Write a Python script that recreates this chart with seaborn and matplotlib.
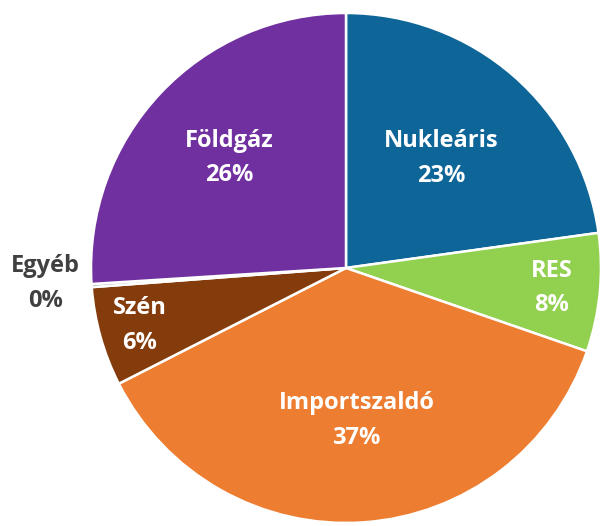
import numpy as np
import matplotlib
matplotlib.use('Agg')
import matplotlib.pyplot as plt
import seaborn as sns

# Data (clockwise from top)
categories = ['Nukleáris', 'RES', 'Importszaldó', 'Szén', 'Egyéb', 'Földgáz']
shares = [22.8, 7.5, 37.2, 6.3, 0.2, 26.0]
pct_labels = ['23%', '8%', '37%', '6%', '0%', '26%']
colors = ['#0E6597', '#92D050', '#ED7D31', '#843C0C', '#A5A5A5', '#7030A0']

sns.set_style('white')
plt.rcParams['font.family'] = ['Open Sans', 'DejaVu Sans']

fig = plt.figure(figsize=(6.03, 5.26), dpi=100)
ax = fig.add_axes([0, 0, 1, 1])

wedges, _ = ax.pie(shares, colors=colors, startangle=90, counterclock=False,
                   radius=1.0, wedgeprops=dict(edgecolor='white', linewidth=1.8))

# label distance from centre (fraction of radius) per slice
label_dist = [0.57, 0.81, 0.6, 0.84, 1.18, 0.63]
label_colors = ['white', 'white', 'white', 'white', '#404040', 'white']

for w, cat, pct, d, c in zip(wedges, categories, pct_labels, label_dist, label_colors):
    ang = np.deg2rad((w.theta1 + w.theta2) / 2)
    if cat == 'Egyéb':
        ang = np.deg2rad(183)
    x, y = d * np.cos(ang), d * np.sin(ang)
    ax.text(x, y, f'{cat}\n{pct}', ha='center', va='center', color=c,
            fontsize=17, fontweight='bold', linespacing=1.6)

ax.set_xlim(-1.357, 1.008)
ax.set_ylim(-1.012, 1.051)
ax.set_aspect('equal')
ax.axis('off')

fig.savefig('out.png', dpi=100)
